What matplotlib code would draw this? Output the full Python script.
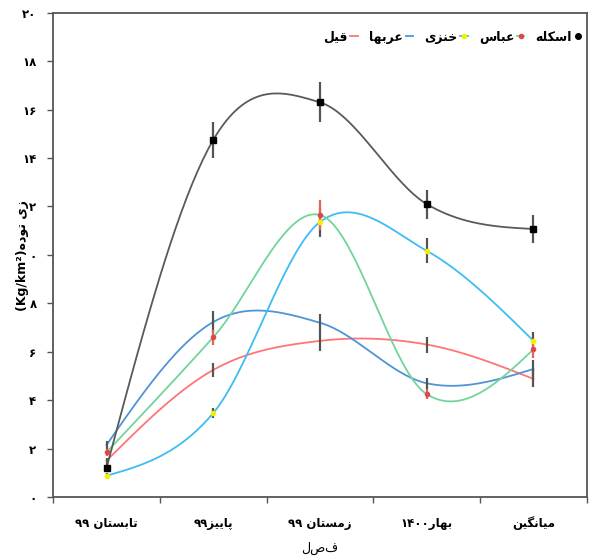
"""Seasonal biomass by station (Persian labels), smoothed lines with error bars."""
import re
import numpy as np
import matplotlib; matplotlib.use("Agg"); import matplotlib.pyplot as plt
from matplotlib.lines import Line2D

# --- data -------------------------------------------------------------
seasons = ["تابستان ۹۹", "پاییز۹۹", "زمستان ۹۹", "بهار۱۴۰۰", "میانگین"]
yticks_fa = ["۰", "۲", "۴", "۶", "۸", "۰", "۲", "۱۴", "۱۶", "۱۸", "۲۰"]

eskele = [1.2, 14.75, 16.3, 12.1, 11.07]
eskele_err = [0.15, 0.74, 0.83, 0.6, 0.58]
abbas = [1.85, 6.6, 11.65, 4.25, 6.1]
abbas_err = [0.15, 0.3, 0.6, 0.2, 0.35]
khonzi = [0.88, 3.47, 11.36, 10.17, 6.45]
khonzi_err = [0.1, 0.2, 0.6, 0.52, 0.35]
arabha = [2.15, 7.23, 7.2, 4.7, 5.29]
arabha_err = [0.15, 0.45, 0.35, 0.23, 0.35]
ghil = [1.5, 5.25, 6.45, 6.3, 4.88]
ghil_err = [0.12, 0.3, 0.4, 0.33, 0.35]

# --- minimal persian shaping (matplotlib has no bidi / joining) ---------
FORMS = {  # isolated, final, initial, medial
    "ا": ("\uFE8D", "\uFE8E", None, None),
    "ب": ("\uFE8F", "\uFE90", "\uFE91", "\uFE92"),
    "پ": ("\uFB56", "\uFB57", "\uFB58", "\uFB59"),
    "ت": ("\uFE95", "\uFE96", "\uFE97", "\uFE98"),
    "خ": ("\uFEA5", "\uFEA6", "\uFEA7", "\uFEA8"),
    "د": ("\uFEA9", "\uFEAA", None, None),
    "ر": ("\uFEAD", "\uFEAE", None, None),
    "ز": ("\uFEAF", "\uFEB0", None, None),
    "س": ("\uFEB1", "\uFEB2", "\uFEB3", "\uFEB4"),
    "ع": ("\uFEC9", "\uFECA", "\uFECB", "\uFECC"),
    "ف": ("\uFED1", "\uFED2", "\uFED3", "\uFED4"),
    "ق": ("\uFED5", "\uFED6", "\uFED7", "\uFED8"),
    "ک": ("\uFB8E", "\uFB8F", "\uFB90", "\uFB91"),
    "گ": ("\uFB92", "\uFB93", "\uFB94", "\uFB95"),
    "ل": ("\uFEDD", "\uFEDE", "\uFEDF", "\uFEE0"),
    "م": ("\uFEE1", "\uFEE2", "\uFEE3", "\uFEE4"),
    "ن": ("\uFEE5", "\uFEE6", "\uFEE7", "\uFEE8"),
    "ه": ("\uFEE9", "\uFEEA", "\uFEEB", "\uFEEC"),
    "و": ("\uFEED", "\uFEEE", None, None),
    "ی": ("\uFBFC", "\uFBFD", "\uFBFE", "\uFBFF"),
}
DIG = "۰۱۲۳۴۵۶۷۸۹"


def shape(s):
    out = []
    for i, ch in enumerate(s):
        if ch not in FORMS:
            out.append(ch)
            continue
        prev = s[i - 1] if i > 0 else ""
        nxt = s[i + 1] if i + 1 < len(s) else ""
        jp = prev in FORMS and FORMS[prev][2] is not None
        jn = FORMS[ch][2] is not None and nxt in FORMS
        iso, fin, ini, med = FORMS[ch]
        out.append(med if (jp and jn) else fin if jp else ini if jn else iso)
    return "".join(out)


def fa(s):
    runs = re.findall(f"[{DIG}]+|[^{DIG}]+", shape(s))
    return "".join(r if r[0] in DIG else r[::-1] for r in reversed(runs))


def smooth(y, n=40):
    # catmull-rom style curve like excel's "smoothed line", natural ends
    y = np.asarray(y, float)
    m = np.empty_like(y)
    m[1:-1] = (y[2:] - y[:-2]) / 2
    m[0] = (3 * (y[1] - y[0]) - m[1]) / 2
    m[-1] = (3 * (y[-1] - y[-2]) - m[-2]) / 2
    xs, ys = [], []
    for i in range(len(y) - 1):
        t = np.linspace(0, 1, n, endpoint=(i == len(y) - 2))
        h00 = 2 * t**3 - 3 * t**2 + 1
        h10 = t**3 - 2 * t**2 + t
        h01 = -2 * t**3 + 3 * t**2
        h11 = t**3 - t**2
        xs.append(i + t)
        ys.append(h00 * y[i] + h10 * m[i] + h01 * y[i + 1] + h11 * m[i + 1])
    return np.concatenate(xs), np.concatenate(ys)


plt.rcParams["font.family"] = ["DejaVu Sans"]
plt.rcParams["font.weight"] = "bold"

fig = plt.figure(figsize=(5.97, 5.56), dpi=100)
ax = fig.add_axes([0.089, 0.106, 0.894, 0.871])
x = np.arange(len(seasons))

series = [
    (ghil, ghil_err, "#FF7575", None, None, "#555555"),
    (arabha, arabha_err, "#4F94D4", None, None, "#555555"),
    (khonzi, khonzi_err, "#3DBDF2", "o", "#F2F200", "#555555"),
    (abbas, abbas_err, "#72D49A", "o", "#E04848", "#E86060"),
    (eskele, eskele_err, "#5A5A5A", "s", "#000000", "#555555"),
]
for vals, err, col, mk, mcol, ecol in series:
    sx, sy = smooth(vals)
    ax.plot(sx, sy, color=col, lw=1.3, zorder=2)
    ax.errorbar(x, vals, yerr=err, fmt="none", ecolor=ecol, elinewidth=1.6, capsize=0, zorder=3)
    if mk:
        ax.plot(x, vals, ls="none", marker=mk, ms=5 if mk == "s" else 3,
                color=mcol, mec=mcol, zorder=4)

ax.set_xlim(-0.5, len(seasons) - 0.5)
ax.set_ylim(0, 20)
ax.set_yticks(np.arange(0, 21, 2))
ax.set_yticklabels(yticks_fa)
ax.set_xticks(x)
ax.set_xticklabels([fa(s) for s in seasons])
ax.set_xticks(np.arange(-0.5, len(seasons)), minor=True)
ax.tick_params(axis="x", which="major", length=0, pad=14, labelsize=8.5)
ax.tick_params(axis="x", which="minor", length=4, width=1, color="#555555")
ax.tick_params(axis="y", length=4, width=1, color="#555555", labelsize=8.5, pad=8)
for sp in ax.spines.values():
    sp.set_color("#555555")
    sp.set_linewidth(1.3)

ax.set_xlabel(fa("فصل"), fontsize=9, labelpad=8)
fig.text(0.037, 0.54, "(Kg/km²)" + fa("توده") + " " + fa("زی"),
         rotation=90, ha="center", va="center", fontsize=9)

handles = [
    Line2D([], [], color="#FF7575", lw=1.3),
    Line2D([], [], color="#4F94D4", lw=1.3),
    Line2D([], [], color="#3DBDF2", lw=1.3, marker="o", ms=3, mfc="#F2F200", mec="#F2F200"),
    Line2D([], [], color="#72D49A", lw=1.3, marker="o", ms=3, mfc="#E04848", mec="#E04848"),
    Line2D([], [], color="none", marker="o", ms=4, mfc="#000000", mec="#000000"),
]
labels = [fa("قیل"), fa("عربها"), fa("خنزی"), fa("عباس"), fa("اسکله")]
ax.legend(handles, labels, loc="center right", bbox_to_anchor=(1.012, 0.95), ncol=5,
          frameon=False, markerfirst=False, handlelength=0.6, handletextpad=0.2,
          columnspacing=0.9, prop={"size": 9, "weight": "bold"})

fig.savefig("out.png", dpi=100)
